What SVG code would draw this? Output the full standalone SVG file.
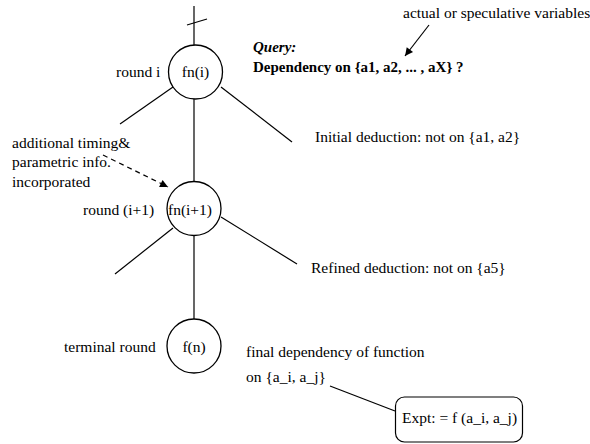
<svg xmlns="http://www.w3.org/2000/svg" width="590" height="444" viewBox="0 0 590 444">
  <defs>
    <marker id="arrow" viewBox="0 0 10 10" refX="10" refY="5" markerWidth="11" markerHeight="8" markerUnits="userSpaceOnUse" orient="auto">
      <path d="M0,0 L10,5 L0,10 Z" fill="#000"/>
    </marker>
  </defs>
  <style>
    .node circle { fill: #fff; stroke: #000; stroke-width: 1.3; }
    .edge { stroke: #000; stroke-width: 1.2; fill: none; }
    .dash { stroke-dasharray: 5 4; }
    .mid { text-anchor: middle; }
    .bold { font-weight: bold; font-size: 15px; }
    .bi { font-weight: bold; font-style: italic; font-size: 15px; }
  </style>
  <rect width="590" height="444" fill="#fff"/>

  <!-- connectors -->
  <g id="connectors">
    <line class="edge" x1="194" y1="6" x2="194" y2="45"/>
    <line class="edge" x1="187" y1="25" x2="207" y2="19"/>
    <line class="edge" x1="173" y1="87" x2="120" y2="124"/>
    <line class="edge" x1="221" y1="87" x2="292" y2="142"/>
    <line class="edge" x1="194" y1="99" x2="194" y2="182"/>
    <line class="edge" x1="173" y1="228" x2="115" y2="274"/>
    <line class="edge" x1="221" y1="217" x2="297" y2="264"/>
    <line class="edge" x1="194" y1="235" x2="194" y2="319"/>
    <line class="edge" x1="429" y1="25" x2="405" y2="56" marker-end="url(#arrow)"/>
    <line class="edge dash" x1="103" y1="155" x2="168" y2="187" marker-end="url(#arrow)"/>
    <line class="edge" x1="330" y1="386" x2="395" y2="411"/>
  </g>

  <g font-family="Liberation Serif, Times New Roman, serif" font-size="15.5" fill="#000">
    <!-- round i -->
    <g id="node-fn-i" class="node">
      <circle cx="195.5" cy="72" r="27"/>
      <text class="mid" x="195.5" y="77">fn(i)</text>
      <text x="116" y="77">round i</text>
    </g>

    <!-- round i+1 -->
    <g id="node-fn-i1" class="node">
      <circle cx="194" cy="208.5" r="27"/>
      <text class="mid" x="190" y="215">fn(i+1)</text>
      <text x="83" y="215">round (i+1)</text>
    </g>

    <!-- terminal round -->
    <g id="node-fn-n" class="node">
      <circle cx="194" cy="346" r="27"/>
      <text class="mid" x="194" y="352">f(n)</text>
      <text x="64" y="352">terminal round</text>
    </g>

    <!-- query -->
    <g id="query">
      <text class="bi" x="253" y="52">Query:</text>
      <text class="bold" x="253" y="72">Dependency on {a1, a2, ... , aX} ?</text>
      <text x="403" y="18">actual or speculative variables</text>
    </g>

    <!-- annotations -->
    <g id="note-timing">
      <text x="12" y="148">additional timing&amp;</text>
      <text x="12" y="167">parametric info.</text>
      <text x="12" y="187">incorporated</text>
    </g>
    <g id="note-initial">
      <text x="315" y="142">Initial deduction:  not on {a1, a2}</text>
    </g>
    <g id="note-refined">
      <text x="311" y="273">Refined deduction: not on {a5}</text>
    </g>
    <g id="note-final">
      <text x="246" y="357">final dependency of function</text>
      <text x="246" y="382">on {a_i, a_j}</text>
    </g>

    <!-- result box -->
    <g id="node-expt">
      <rect x="395.5" y="397" width="127" height="45" rx="9" ry="9" fill="#fff" stroke="#000" stroke-width="1.2"/>
      <text x="402" y="423">Expt: = f (a_i, a_j)</text>
    </g>
  </g>
</svg>
